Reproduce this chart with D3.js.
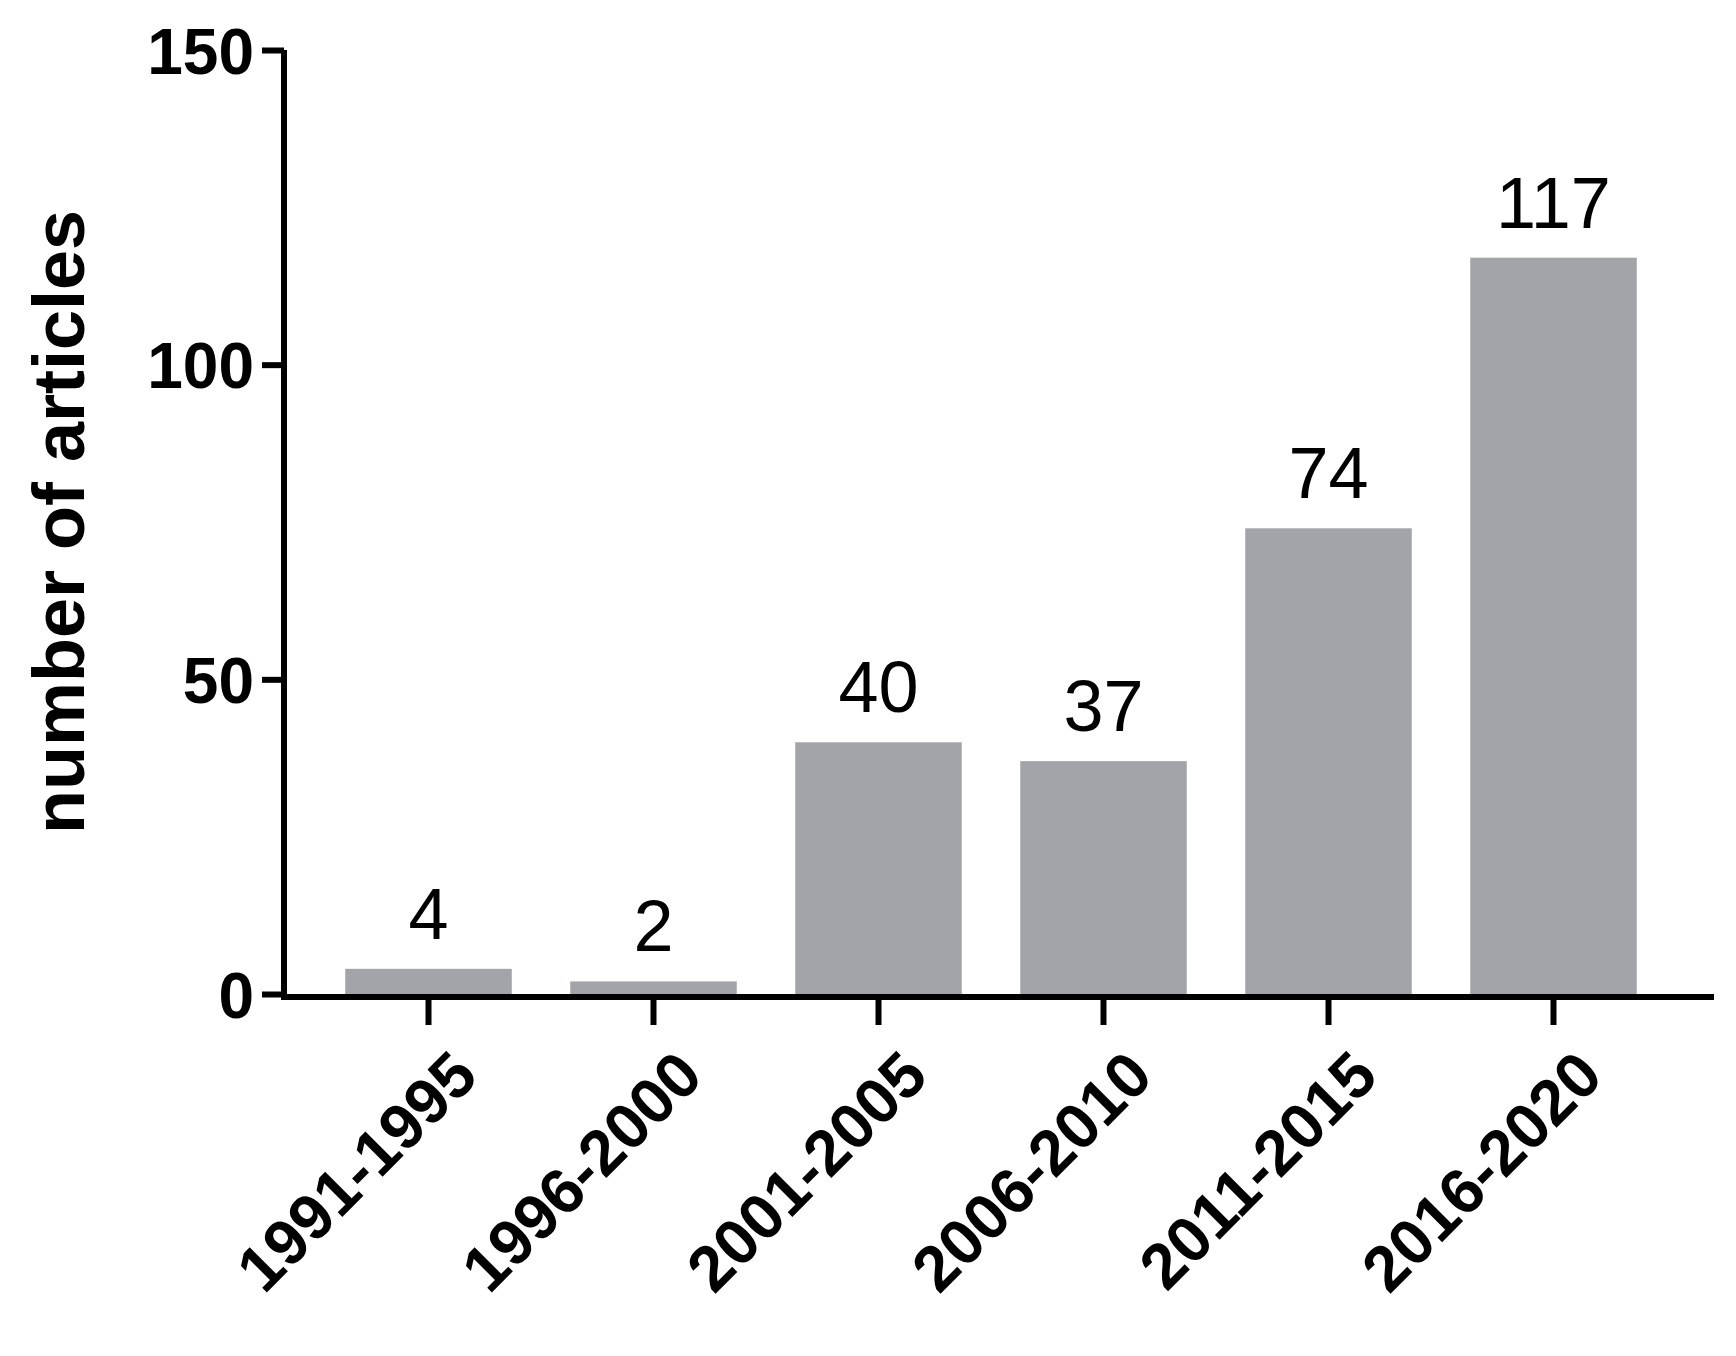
<!DOCTYPE html>
<html><head><meta charset="utf-8">
<script src="https://cdn.jsdelivr.net/npm/d3@7"></script>
<style>body{margin:0;background:#fff}</style>
</head><body>
<svg width="1736" height="1356"></svg>
<script>
const categories = ["1991-1995", "1996-2000", "2001-2005", "2006-2010", "2011-2015", "2016-2020"];
const counts = [4, 2, 40, 37, 74, 117];
const yTicks = [0, 50, 100, 150];

const svg = d3.select("svg");
const font = "Liberation Sans, Arial, sans-serif";
const narrow = "'Liberation Sans Narrow', 'Arial Narrow', Liberation Sans, sans-serif";
const axisX = 284, y0 = 994;

const x = d3.scaleBand().domain(categories).range([316, 1666]).paddingInner(0.26).paddingOuter(0.13);
const y = d3.scaleLinear().domain([0, 150]).range([y0, 50]);

// bars
svg.selectAll(".bar").data(categories).enter().append("rect")
   .attr("x", d => x(d))
   .attr("width", x.bandwidth())
   .attr("y", (d, i) => y(counts[i]))
   .attr("height", (d, i) => y0 - y(counts[i]))
   .attr("fill", "#a3a4a8");

// value labels
svg.selectAll(".val").data(categories).enter().append("text")
   .attr("x", d => x(d) + x.bandwidth() / 2)
   .attr("y", (d, i) => y(counts[i]) - 30)
   .attr("text-anchor", "middle")
   .style("font", `72px ${narrow}`)
   .text((d, i) => counts[i]);

// y axis
const ya = svg.append("g").attr("transform", `translate(${axisX},0)`)
   .call(d3.axisLeft(y).tickValues(yTicks).tickSize(22).tickPadding(8));
ya.select(".domain").attr("stroke-width", 6).attr("d", `M0,${y(150)}V${y0 + 3}`);
ya.selectAll(".tick line").attr("stroke-width", 6);
ya.selectAll("text").style("font", `bold 64px ${font}`).attr("dy", "0.36em");

// x axis
const xa = svg.append("g").attr("transform", `translate(0,${y0 + 3})`)
   .call(d3.axisBottom(x).tickSize(28).tickSizeOuter(0));
xa.select(".domain").attr("stroke-width", 6).attr("d", `M${axisX - 3},0H1714`);
xa.selectAll(".tick line").attr("stroke-width", 6);
xa.selectAll("text")
  .style("font", `bold 64px ${font}`)
  .attr("text-anchor", "end")
  .attr("dy", "0")
  .attr("transform", "translate(30,60) rotate(-45)");

// y title
svg.append("text")
   .attr("transform", `translate(84,${(y(150) + y0) / 2}) rotate(-90)`)
   .attr("text-anchor", "middle")
   .style("font", `bold 72px ${font}`)
   .text("number of articles");
</script>
</body></html>
